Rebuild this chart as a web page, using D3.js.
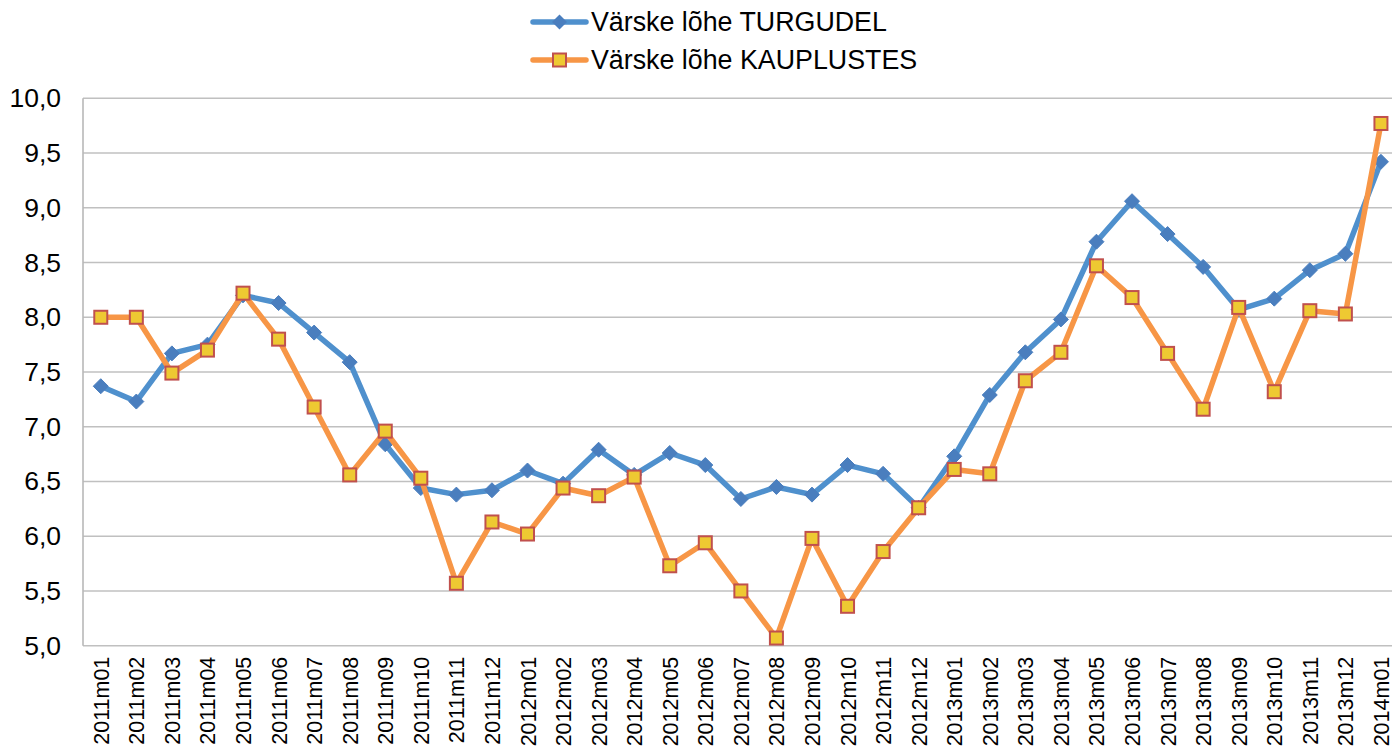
<!DOCTYPE html>
<html><head><meta charset="utf-8">
<script src="https://cdn.jsdelivr.net/npm/d3@7"></script>
<style>body{margin:0;background:#fff}svg{display:block;font-family:"Liberation Sans",Arial,sans-serif}</style>
</head><body>
<script>
const categories = ["2011m01","2011m02","2011m03","2011m04","2011m05","2011m06","2011m07","2011m08","2011m09","2011m10","2011m11","2011m12",
"2012m01","2012m02","2012m03","2012m04","2012m05","2012m06","2012m07","2012m08","2012m09","2012m10","2012m11","2012m12",
"2013m01","2013m02","2013m03","2013m04","2013m05","2013m06","2013m07","2013m08","2013m09","2013m10","2013m11","2013m12","2014m01"];
const turgudel = [7.37,7.23,7.67,7.75,8.20,8.13,7.86,7.59,6.84,6.44,6.38,6.42,
6.60,6.48,6.79,6.56,6.76,6.65,6.34,6.45,6.38,6.65,6.57,6.26,
6.73,7.29,7.68,7.98,8.69,9.06,8.76,8.46,8.07,8.17,8.43,8.58,9.42];
const kauplustes = [8.00,8.00,7.49,7.70,8.22,7.80,7.18,6.56,6.96,6.53,5.57,6.13,
6.02,6.44,6.37,6.54,5.73,5.94,5.50,5.07,5.98,5.36,5.86,6.26,
6.61,6.57,7.42,7.68,8.47,8.18,7.67,7.16,8.09,7.32,8.06,8.03,9.77];
const yTicks = [5.0,5.5,6.0,6.5,7.0,7.5,8.0,8.5,9.0,9.5,10.0];
const seriesNames = ["Värske lõhe TURGUDEL","Värske lõhe KAUPLUSTES"];

(function(){
const W=1392,H=749;
const pLeft=83, pTop=98.3, pBottom=645.7, step=35.56;
const pRight = pLeft + categories.length*step;
const svg=d3.select("body").append("svg").attr("width",W).attr("height",H);
const x=d3.scalePoint().domain(categories).range([pLeft,pRight]).padding(0.5);
const y=d3.scaleLinear().domain([5,10]).range([pBottom,pTop]);
const fmt=d=>d.toFixed(1).replace(".",",");

svg.append("g").selectAll("line").data(yTicks).join("line")
 .attr("x1",pLeft).attr("x2",W).attr("y1",d=>y(d)).attr("y2",d=>y(d))
 .attr("stroke","#c0c0c0").attr("stroke-width",1.6);
svg.append("line").attr("x1",pLeft).attr("x2",pLeft).attr("y1",pTop).attr("y2",pBottom).attr("stroke","#b8b8b8").attr("stroke-width",1.6);

const yAxis=d3.axisLeft(y).tickValues(yTicks).tickFormat(fmt).tickSize(0).tickPadding(22);
const ya=svg.append("g").attr("transform",`translate(${pLeft},0)`).call(yAxis);
ya.select(".domain").remove();
ya.selectAll("text").attr("font-size",26.5).attr("fill","#000").attr("font-family","Liberation Sans, Arial, sans-serif");

const xAxis=d3.axisBottom(x).tickSize(0).tickPadding(0);
const xa=svg.append("g").attr("transform",`translate(0,${pBottom})`).call(xAxis);
xa.select(".domain").remove();
xa.selectAll("text").attr("font-size",21.5).attr("fill","#000").attr("font-family","Liberation Sans, Arial, sans-serif")
 .attr("text-anchor","end").attr("dy","0.35em").attr("y",0)
 .attr("transform","translate(0,11) rotate(-90)");

const line=d3.line().x((d,i)=>x(categories[i])).y(d=>y(d));
function diamondPath(cx,cy,r){return `M${cx},${cy-r}L${cx+r},${cy}L${cx},${cy+r}L${cx-r},${cy}Z`;}

svg.append("path").datum(turgudel).attr("d",line).attr("fill","none").attr("stroke","#4F90CD").attr("stroke-width",5.5).attr("stroke-linejoin","round");
svg.append("g").selectAll("path").data(turgudel).join("path")
 .attr("d",(d,i)=>diamondPath(x(categories[i]),y(d),7.5)).attr("fill","#4A7EBE").attr("stroke","#4A7EBE").attr("stroke-width",1);
svg.append("path").datum(kauplustes).attr("d",line).attr("fill","none").attr("stroke","#F79646").attr("stroke-width",5.5).attr("stroke-linejoin","round");
svg.append("g").selectAll("rect").data(kauplustes).join("rect")
 .attr("x",(d,i)=>x(categories[i])-6.5).attr("y",d=>y(d)-6.5).attr("width",13).attr("height",13)
 .attr("fill","#EEC932").attr("stroke","#C0504D").attr("stroke-width",2);

const lg=svg.append("g");
const rows=[22,60];
lg.append("line").attr("x1",533).attr("x2",586).attr("y1",rows[0]).attr("y2",rows[0]).attr("stroke","#4F90CD").attr("stroke-width",5.5).attr("stroke-linecap","round");
lg.append("path").attr("d",diamondPath(559.5,rows[0],7.5)).attr("fill","#4A7EBE");
lg.append("line").attr("x1",533).attr("x2",586).attr("y1",rows[1]).attr("y2",rows[1]).attr("stroke","#F79646").attr("stroke-width",5.5).attr("stroke-linecap","round");
lg.append("rect").attr("x",553).attr("y",rows[1]-6.5).attr("width",13).attr("height",13).attr("fill","#EEC932").attr("stroke","#C0504D").attr("stroke-width",2);
lg.selectAll("text").data(seriesNames).join("text").attr("x",591).attr("y",(d,i)=>rows[i]).attr("dy","0.35em")
 .attr("font-size",26.8).attr("fill","#000").text(d=>d);
})();
</script>
</body></html>
